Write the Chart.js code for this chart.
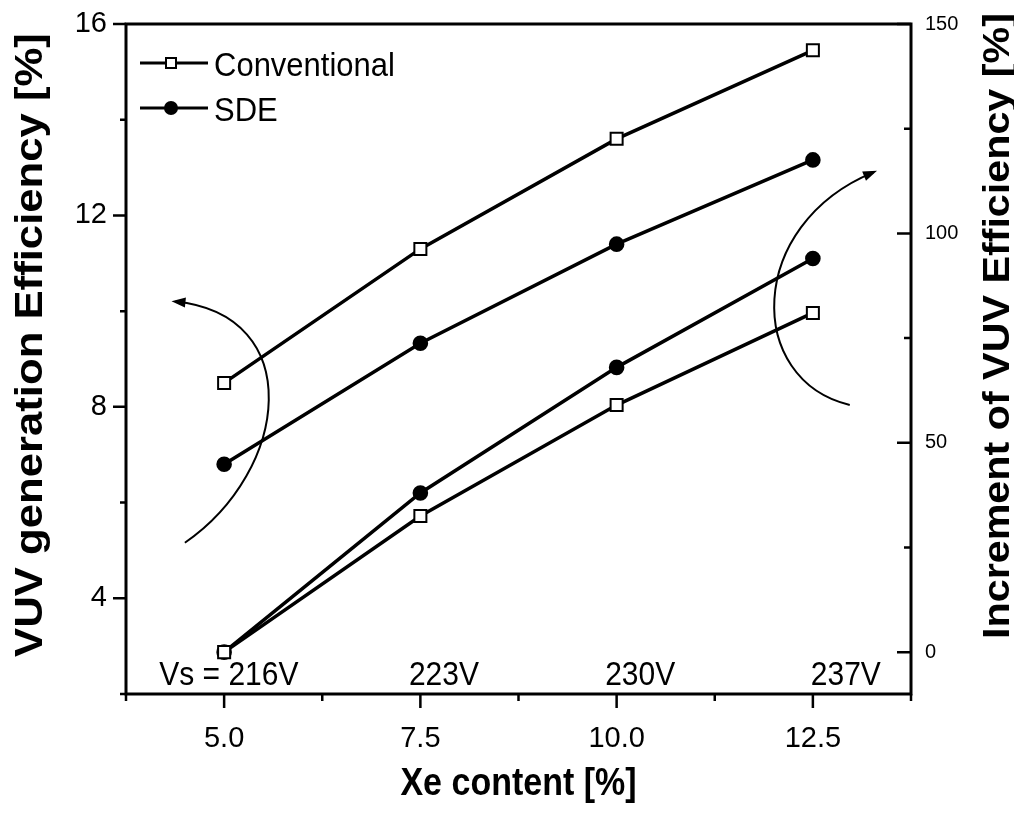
<!DOCTYPE html>
<html>
<head>
<meta charset="utf-8">
<script src="https://cdn.jsdelivr.net/npm/chart.js@4.4.0/dist/chart.umd.min.js"></script>
<style>
  body { margin: 0; background: #fff; }
  canvas { display: block; }
</style>
</head>
<body>
<canvas id="chart" width="1014" height="813"></canvas>
<script>
// Xe content on the x axis, efficiencies on the left axis, increments on the right
const xeContent = [5.0, 7.5, 10.0, 12.5];
const convEff = [8.5, 11.3, 13.6, 15.45];
const sdeEff = [6.8, 9.33, 11.4, 13.16];
const convInc = [0, 32.5, 59, 81];
const sdeInc = [0, 38, 68, 94];
const vsLabels = ['Vs = 216V', '223V', '230V', '237V'];

const xTicks = [5.0, 7.5, 10.0, 12.5];
const xMinor = [3.75, 6.25, 8.75, 11.25, 13.75];
const leftTicks = [4, 8, 12, 16];
const leftMinor = [2, 6, 10, 14];
const rightTicks = [0, 50, 100, 150];
const rightMinor = [25, 75, 125];

const FONT = '"Liberation Sans", Arial, sans-serif';

function pts(ys) {
    return xeContent.map((x, i) => ({ x: x, y: ys[i] }));
}

function drawText(ctx, text, x, y, opts) {
    ctx.save();
    ctx.font = opts.font;
    ctx.fillStyle = '#000';
    ctx.translate(x, y);
    if (opts.rot) ctx.rotate(opts.rot);
    ctx.scale(opts.sx || 1, opts.sy || 1);
    ctx.textAlign = opts.align || 'center';
    ctx.textBaseline = 'alphabetic';
    ctx.fillText(text, 0, 0);
    ctx.restore();
}

// curved arrow through bezier control points given in data units
function curvedArrow(ctx, xs, ys, p) {
    const q = p.map(v => [xs.getPixelForValue(v[0]), ys.getPixelForValue(v[1])]);
    ctx.save();
    ctx.strokeStyle = '#000';
    ctx.fillStyle = '#000';
    ctx.lineWidth = 2;
    ctx.beginPath();
    ctx.moveTo(q[0][0], q[0][1]);
    ctx.bezierCurveTo(q[1][0], q[1][1], q[2][0], q[2][1], q[3][0], q[3][1]);
    ctx.stroke();
    const ang = Math.atan2(q[3][1] - q[2][1], q[3][0] - q[2][0]);
    ctx.translate(q[3][0], q[3][1]);
    ctx.rotate(ang);
    ctx.beginPath();
    ctx.moveTo(4, 0);
    ctx.lineTo(-10, -5);
    ctx.lineTo(-10, 5);
    ctx.closePath();
    ctx.fill();
    ctx.restore();
}

// fixed box sizes, no extra label padding
function fixWidth(w) {
    return s => { s.width = w; s.paddingTop = 0; s.paddingBottom = 0; };
}

const decor = {
    id: 'decor',
    beforeDraw(chart) {
        const ctx = chart.ctx;
        ctx.save();
        ctx.fillStyle = '#fff';
        ctx.fillRect(0, 0, chart.width, chart.height);
        ctx.restore();
    },
    beforeDatasetsDraw(chart) {
        const ctx = chart.ctx;
        const xs = chart.scales.x;
        const ca = chart.chartArea;
        const labelAt = [5.06, 7.8, 10.3, 12.92];
        vsLabels.forEach((t, i) => {
            drawText(ctx, t, xs.getPixelForValue(labelAt[i]), ca.bottom - 9,
                { font: '30px ' + FONT, sy: 1.1 });
        });
    },
    afterDatasetsDraw(chart) {
        const ctx = chart.ctx;
        const xs = chart.scales.x, yl = chart.scales.y;
        curvedArrow(ctx, xs, yl, [[4.50, 5.16], [5.84, 6.68], [6.05, 9.92], [4.38, 10.2]]);
        curvedArrow(ctx, xs, yl, [[12.97, 8.04], [11.64, 8.56], [11.64, 11.8], [13.27, 12.9]]);
    },
    afterDraw(chart) {
        const ctx = chart.ctx;
        const ca = chart.chartArea;
        const xs = chart.scales.x, yl = chart.scales.y, yr = chart.scales.y1;
        ctx.save();
        ctx.strokeStyle = '#000';
        ctx.lineWidth = 3;
        ctx.strokeRect(ca.left, ca.top, ca.right - ca.left, ca.bottom - ca.top);

        // tick marks
        ctx.lineWidth = 2.5;
        ctx.beginPath();
        leftTicks.forEach(v => { const y = yl.getPixelForValue(v); ctx.moveTo(ca.left - 13, y); ctx.lineTo(ca.left, y); });
        leftMinor.forEach(v => { const y = yl.getPixelForValue(v); ctx.moveTo(ca.left - 6, y); ctx.lineTo(ca.left, y); });
        xTicks.forEach(v => { const x = xs.getPixelForValue(v); ctx.moveTo(x, ca.bottom); ctx.lineTo(x, ca.bottom + 14); });
        xMinor.forEach(v => { const x = xs.getPixelForValue(v); ctx.moveTo(x, ca.bottom); ctx.lineTo(x, ca.bottom + 7); });
        rightTicks.forEach(v => { const y = yr.getPixelForValue(v); ctx.moveTo(ca.right - 14, y); ctx.lineTo(ca.right, y); });
        rightMinor.forEach(v => { const y = yr.getPixelForValue(v); ctx.moveTo(ca.right - 7, y); ctx.lineTo(ca.right, y); });
        ctx.stroke();

        // legend
        const lx = ca.left, rows = [ca.top + 39, ca.top + 84];
        ctx.lineWidth = 3;
        rows.forEach((y, i) => {
            ctx.beginPath();
            ctx.moveTo(lx + 14, y); ctx.lineTo(lx + 34, y);
            ctx.moveTo(lx + 56, y); ctx.lineTo(lx + 82, y);
            ctx.stroke();
            ctx.lineWidth = 2;
            if (i === 0) {
                ctx.fillStyle = '#fff';
                ctx.fillRect(lx + 40, y - 5, 10, 10);
                ctx.strokeRect(lx + 40, y - 5, 10, 10);
                ctx.lineWidth = 3;
                ctx.beginPath(); ctx.moveTo(lx + 34, y); ctx.lineTo(lx + 40, y); ctx.moveTo(lx + 50, y); ctx.lineTo(lx + 56, y); ctx.stroke();
            } else {
                ctx.fillStyle = '#000';
                ctx.beginPath(); ctx.arc(lx + 45, y, 7, 0, Math.PI * 2); ctx.fill();
                ctx.lineWidth = 3;
                ctx.beginPath(); ctx.moveTo(lx + 34, y); ctx.lineTo(lx + 56, y); ctx.stroke();
            }
            drawText(ctx, chart.data.datasets[i].label, lx + 88, y + 13,
                { font: '31px ' + FONT, align: 'left', sy: 1.08 });
        });
        ctx.restore();

        // axis titles
        drawText(ctx, 'VUV generation Efficiency [%]', 42, 345,
            { font: 'bold 39px ' + FONT, rot: -Math.PI / 2, sx: 1.12 });
        drawText(ctx, 'Increment of VUV Efficiency [%]', 1009, 326,
            { font: 'bold 37px ' + FONT, rot: -Math.PI / 2, sx: 1.115 });
        drawText(ctx, 'Xe content [%]', (ca.left + ca.right) / 2, 795,
            { font: 'bold 34px ' + FONT, sy: 1.115 });
    }
};

function lineSet(label, data, axis, square) {
    return {
        label: label,
        data: data,
        yAxisID: axis,
        borderColor: '#000',
        borderWidth: 3.5,
        tension: 0,
        pointStyle: square ? 'rect' : 'circle',
        pointRadius: square ? 8.5 : 6.8,
        pointBorderWidth: 2,
        pointBorderColor: '#000',
        pointBackgroundColor: square ? '#fff' : '#000'
    };
}

const ctx = document.getElementById('chart').getContext('2d');
new Chart(ctx, {
    type: 'line',
    data: {
        datasets: [
            lineSet('Conventional', pts(convEff), 'y', true),
            lineSet('SDE', pts(sdeEff), 'y', false),
            lineSet('Conventional increment', pts(convInc), 'y1', true),
            lineSet('SDE increment', pts(sdeInc), 'y1', false)
        ]
    },
    options: {
        responsive: false,
        animation: false,
        events: [],
        layout: { padding: { top: 24, left: 0, right: 0, bottom: 0 } },
        plugins: { legend: { display: false }, tooltip: { enabled: false } },
        scales: {
            x: {
                type: 'linear', position: 'bottom', min: 3.75, max: 13.75,
                afterBuildTicks: s => { s.ticks = xTicks.map(v => ({ value: v })); },
                afterFit: s => { s.height = 119; s.paddingLeft = 0; s.paddingRight = 0; },
                grid: { display: false, drawTicks: false },
                border: { display: false },
                ticks: { color: '#000', padding: 28, maxRotation: 0, autoSkip: false,
                    font: { family: FONT, size: 29 }, callback: v => v.toFixed(1) }
            },
            y: {
                position: 'left', min: 2, max: 16,
                afterBuildTicks: s => { s.ticks = leftTicks.map(v => ({ value: v })); },
                afterFit: fixWidth(126),
                grid: { display: false, drawTicks: false },
                border: { display: false },
                ticks: { color: '#000', padding: 19, font: { family: FONT, size: 29 } }
            },
            y1: {
                position: 'right', min: -10, max: 150,
                afterBuildTicks: s => { s.ticks = rightTicks.map(v => ({ value: v })); },
                afterFit: fixWidth(103),
                grid: { display: false, drawTicks: false },
                border: { display: false },
                ticks: { color: '#000', padding: 14, font: { family: FONT, size: 20 } }
            }
        }
    },
    plugins: [decor]
});
</script>
</body>
</html>
